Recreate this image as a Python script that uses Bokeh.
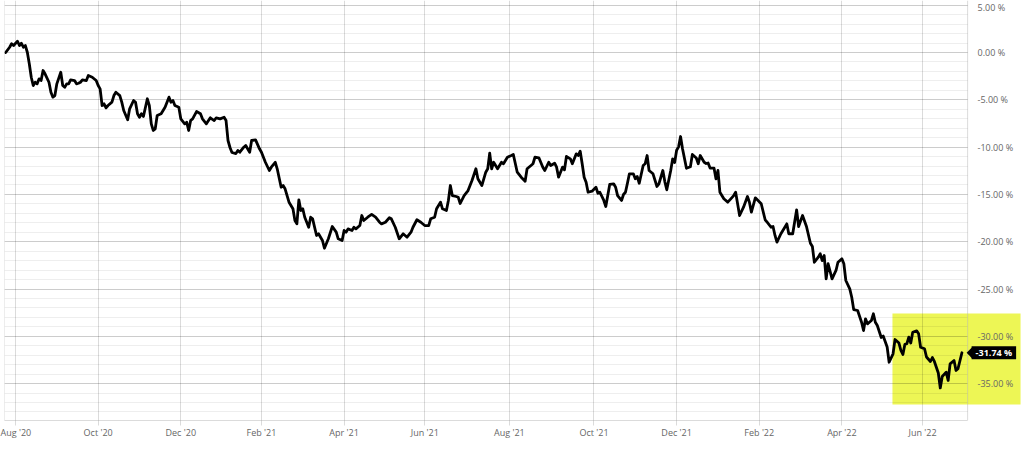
import numpy as np
from bokeh.plotting import figure
from bokeh.models import (Range1d, FixedTicker, PrintfTickFormatter, Label, BoxAnnotation,
                          PolyAnnotation, ColumnDataSource, Span)
from bokeh.embed import file_html
from bokeh.resources import INLINE

# ---------------- data ----------------
# trading-day number counted from the first session shown (2020-07-27, US market calendar)
START = "2020-07-27"
HOLIDAYS = ["2020-09-07", "2020-11-26", "2020-12-25", "2021-01-01", "2021-01-18",
            "2021-02-15", "2021-04-02", "2021-05-31", "2021-07-05", "2021-09-06",
            "2021-11-25", "2021-12-24", "2022-01-17", "2022-02-21", "2022-04-15",
            "2022-05-30", "2022-06-20", "2022-07-04"]

trading_day = [
    0, 2, 3, 4, 6, 7, 8, 9, 10, 11, 12, 13, 14, 15, 16, 17, 18, 19, 20, 22,
    23, 24, 25, 26, 28, 29, 30, 31, 32, 33, 35, 36, 37, 38, 39, 41, 42, 44, 46, 47,
    48, 49, 50, 51, 52, 54, 55, 56, 58, 59, 60, 62, 63, 65, 66, 67, 68, 69, 70, 72,
    73, 74, 75, 76, 77, 79, 80, 81, 83, 84, 85, 86, 88, 89, 91, 92, 93, 94, 95, 97,
    99, 100, 102, 104, 106, 107, 109, 111, 112, 113, 114, 115, 117, 118,
    119, 121, 122, 124, 125, 127, 129, 130, 132, 134, 135, 137, 138, 140, 141, 142,
    144, 146, 147, 148, 149, 150, 151, 152, 153, 154, 155, 156, 158, 159, 161, 162,
    164, 166, 168, 169, 171, 172, 173, 174, 176, 177, 178, 180, 181, 182, 184, 186,
    188, 190, 191, 193, 195, 196, 198, 200, 202, 203, 204, 206, 207, 209, 211, 213,
    215, 216, 218, 219, 221, 222, 224, 225, 226, 227, 229, 230, 231, 233, 235, 237,
    239, 240, 242, 244, 245, 246, 247, 248, 250, 252, 253, 255, 257, 258, 260, 262,
    264, 265, 267, 268, 269, 271, 273, 274, 276, 277, 279, 280, 281, 283, 284, 285,
    287, 288, 290, 291, 292, 293, 294, 295, 296, 298, 300, 301, 302, 304, 305, 306,
    307, 309, 310, 311, 313, 314, 315, 316, 317, 319, 320, 321, 322, 324, 325, 326,
    327, 329, 331, 332, 334, 335, 336, 338, 339, 340, 341, 342, 343, 344, 346, 348,
    349, 351, 352, 353, 355, 356, 357, 358, 360, 361, 362, 363, 365, 367, 369, 370,
    371, 373, 375, 377, 378, 379, 381, 382, 384, 386, 387, 389, 390, 391, 392, 394,
    396, 397, 398, 400, 402, 403, 405, 407, 409, 410, 411, 413, 414, 415, 416, 417,
    418, 420, 422, 423, 425, 426, 427, 429, 430, 431, 433, 435, 436, 437, 438, 440,
    441, 442, 443, 445, 446, 448, 449, 451, 452, 454, 455, 456, 457, 458, 459, 460,
    461, 463, 464, 465, 467, 468, 470, 471, 472, 474, 475, 476, 478, 479, 480, 482,
    483, 484, 486,
]

return_pct = [
    0.00, 0.56, 0.92, 0.74, 1.19, 0.74, 0.98, 0.56, 0.74, 0.03, -1.19, -2.61, -3.49, -3.14, -3.31, -2.78, -2.96, -1.90, -2.25, -3.14,
    -4.20, -4.72, -4.55, -3.31, -2.08, -3.49, -3.67, -3.31, -3.31, -2.89, -2.96, -3.31, -3.25, -3.14, -2.89, -2.96, -2.43, -2.61, -2.96, -3.49,
    -3.84, -5.60, -5.42, -5.85, -5.60, -5.25, -4.55, -4.20, -4.55, -5.25, -6.13, -7.11, -5.95, -5.07, -5.25, -6.48, -6.84, -6.48, -6.76, -4.89,
    -5.60, -7.54, -8.24, -8.07, -6.66, -6.48, -6.13, -5.78, -4.72, -5.25, -5.07, -5.60, -5.78, -7.01, -7.54, -7.37, -8.24, -7.19, -7.01, -6.24,
    -6.48, -7.01, -7.54, -6.90, -7.19, -6.90, -7.01, -6.84, -7.19, -9.30, -10.04, -10.57, -10.68, -10.36,
    -10.54, -10.01, -9.83, -10.54, -9.30, -9.23, -10.18, -10.54, -11.60, -12.47, -12.12, -11.60, -12.29, -14.24, -14.06, -14.41,
    -15.82, -16.52, -17.76, -18.11, -15.57, -16.70, -16.52, -17.41, -17.94, -18.47, -17.41, -17.58, -19.34, -19.16, -19.87, -20.69,
    -19.69, -18.39, -18.99, -19.69, -19.87, -18.81, -18.99, -18.64, -18.81, -18.47, -18.64, -18.29, -17.23, -17.76, -17.41, -17.12,
    -17.41, -17.94, -18.11, -17.94, -17.47, -17.58, -18.47, -19.69, -19.16, -19.34, -19.52, -18.99, -18.47, -17.68, -17.94, -18.29,
    -18.29, -17.58, -17.41, -16.52, -15.82, -16.52, -16.70, -15.64, -14.06, -15.12, -15.22, -15.30, -15.96, -15.12, -14.59, -13.53,
    -12.29, -13.35, -14.06, -12.65, -12.29, -10.64, -12.29, -11.60, -12.29, -11.60, -11.76, -11.07, -10.89, -10.78, -12.65, -13.18,
    -13.60, -12.29, -11.94, -11.76, -11.07, -11.13, -12.12, -12.47, -11.60, -11.94, -11.70, -12.12, -13.18, -12.12, -12.40, -10.99,
    -11.24, -11.76, -10.71, -10.89, -10.43, -11.76, -13.18, -13.71, -14.77, -14.66, -14.24, -14.87, -14.77, -15.64, -16.28, -15.12,
    -13.95, -13.88, -14.24, -15.12, -15.64, -15.01, -14.77, -13.82, -12.82, -12.82, -13.35, -13.11, -13.82, -11.94, -11.76, -10.89,
    -12.47, -12.82, -14.16, -13.88, -12.47, -13.64, -14.51, -12.47, -11.24, -11.63, -10.33, -9.97, -8.88, -10.18, -12.24, -12.08,
    -10.78, -11.15, -11.76, -10.89, -11.60, -11.73, -11.68, -12.21, -12.21, -13.35, -12.47, -14.77, -15.46, -15.82, -15.36, -15.12,
    -14.77, -17.23, -16.35, -15.22, -15.82, -16.88, -15.36, -15.57, -15.99, -17.68, -17.94, -18.47, -18.39, -19.34, -20.05, -19.16,
    -18.47, -18.11, -19.16, -19.16, -16.63, -18.39, -17.23, -18.39, -20.16, -20.51, -22.17, -21.64, -21.28, -21.99, -21.46, -23.92,
    -22.33, -23.92, -23.04, -22.17, -21.81, -22.33, -24.10, -24.98, -25.87, -27.17, -27.27, -28.51, -29.39, -28.15, -28.68, -28.33,
    -27.62, -28.51, -28.86, -30.12, -29.97, -31.13, -32.74, -31.85, -30.34, -30.71, -31.50, -31.92, -30.86, -30.79, -30.09, -30.71,
    -29.57, -29.42, -29.74, -31.15, -31.32, -32.19, -32.66, -32.24, -32.66, -33.88, -35.46, -34.25, -33.79, -34.67, -32.91, -32.56,
    -33.61, -33.43, -31.74,
]

month_start = ["2020-08-01", "2020-10-01", "2020-12-01", "2021-02-01", "2021-04-01", "2021-06-01",
               "2021-08-01", "2021-10-01", "2021-12-01", "2022-02-01", "2022-04-01", "2022-06-01"]
month_labels = ["Aug '20", "Oct '20", "Dec '20", "Feb '21", "Apr '21", "Jun '21",
                "Aug '21", "Oct '21", "Dec '21", "Feb '22", "Apr '22", "Jun '22"]
y_major = [-35, -30, -25, -20, -15, -10, -5, 0, 5]
y_minor = list(range(-38, 6))

last_label = "-31.74 %"
highlight_days = (450.7, 515.8)      # highlighted recent period (runs under the value scale)
highlight_pct = (-37.2, -27.6)

plot_days = (-0.6, 488.9)            # extent of the plotting area
x_view = (-0.6, 517.3)               # includes the value-scale strip on the right
y_view = (-38.9, 5.5)

# ---------------- chart ----------------
FONT = "Open Sans"
GRID_A = 0.14
tick_pos = [int(v) for v in np.busday_count(START, month_start, holidays=HOLIDAYS)]

p = figure(width=1023, height=450, output_backend="svg", toolbar_location=None,
           x_range=Range1d(*x_view), y_range=Range1d(*y_view),
           y_axis_location="right", title=None,
           min_border_left=4, min_border_right=0, min_border_top=0, min_border_bottom=30)
p.outline_line_color = None
p.background_fill_color = "white"
p.border_fill_color = "white"

# highlight, inner part (under the grid) / white strip / highlight, outer part
hl_inner = BoxAnnotation(left=highlight_days[0], right=plot_days[1],
                         bottom=highlight_pct[0], top=highlight_pct[1],
                         fill_color="#edf655", fill_alpha=1.0, line_color=None, level="underlay")
strip = BoxAnnotation(left=plot_days[1], right=x_view[1], bottom=y_view[0], top=y_view[1],
                      fill_color="white", fill_alpha=1.0, line_color=None, level="underlay")
hl_outer = BoxAnnotation(left=plot_days[1], right=highlight_days[1],
                         bottom=highlight_pct[0], top=highlight_pct[1],
                         fill_color="#edf655", fill_alpha=1.0, line_color=None, level="underlay")
p.center = [hl_inner] + list(p.center) + [strip, hl_outer]

# grids
p.xgrid.ticker = FixedTicker(ticks=tick_pos)
p.xgrid.grid_line_color = "black"
p.xgrid.grid_line_alpha = GRID_A
p.ygrid.ticker = FixedTicker(ticks=y_major, minor_ticks=y_minor)
p.ygrid.grid_line_color = "black"
p.ygrid.grid_line_alpha = GRID_A
p.ygrid.minor_grid_line_color = "black"
p.ygrid.minor_grid_line_alpha = 0.065

# x axis
xa = p.xaxis[0]
xa.ticker = FixedTicker(ticks=tick_pos)
xa.bounds = plot_days
xa.major_label_overrides = {pos: lab for pos, lab in zip(tick_pos, month_labels)}
xa.axis_line_color = "black"
xa.axis_line_alpha = GRID_A
xa.major_tick_line_color = "black"
xa.major_tick_line_alpha = GRID_A
xa.major_tick_in = 0
xa.major_tick_out = 5
xa.minor_tick_line_color = None
xa.major_label_standoff = 0
xa.major_label_text_font = FONT
xa.major_label_text_font_size = "9px"
xa.major_label_text_color = "#666666"

# y axis (right edge; labels pulled back into the value strip)
ya = p.yaxis[0]
ya.ticker = FixedTicker(ticks=y_major)
ya.formatter = PrintfTickFormatter(format="%.2f %%")
ya.axis_line_color = None
ya.major_tick_line_color = None
ya.minor_tick_line_color = None
ya.major_tick_in = 0
ya.major_tick_out = 0
ya.major_label_standoff = -46
ya.major_label_text_font = FONT
ya.major_label_text_font_size = "9px"
ya.major_label_text_color = "#666666"

# plotting-area edges
for loc in plot_days:
    p.add_layout(Span(location=loc, dimension="height", line_color="black",
                      line_alpha=GRID_A, line_width=1, level="underlay"))

# series
src = ColumnDataSource(dict(day=trading_day, ret=return_pct))
p.line(x="day", y="ret", source=src, line_color="black", line_width=2.8,
       line_join="round", line_cap="round")

# last value callout (pointer + value box)
last_val = return_pct[-1]
p.add_layout(PolyAnnotation(xs=[plot_days[1] - 0.5, plot_days[1] + 2.4, plot_days[1] + 2.4],
                            ys=[last_val, last_val + 0.62, last_val - 0.62],
                            fill_color="black", fill_alpha=1.0, line_color=None))
p.add_layout(Label(x=plot_days[1], y=last_val, x_offset=4, text=last_label,
                   text_font=FONT, text_font_size="9px", text_font_style="bold",
                   text_color="white", text_align="left", text_baseline="middle",
                   background_fill_color="black", background_fill_alpha=1.0,
                   padding=dict(left=4, right=4, top=0, bottom=0)))

open("out.html", "w").write(file_html(p, INLINE))
